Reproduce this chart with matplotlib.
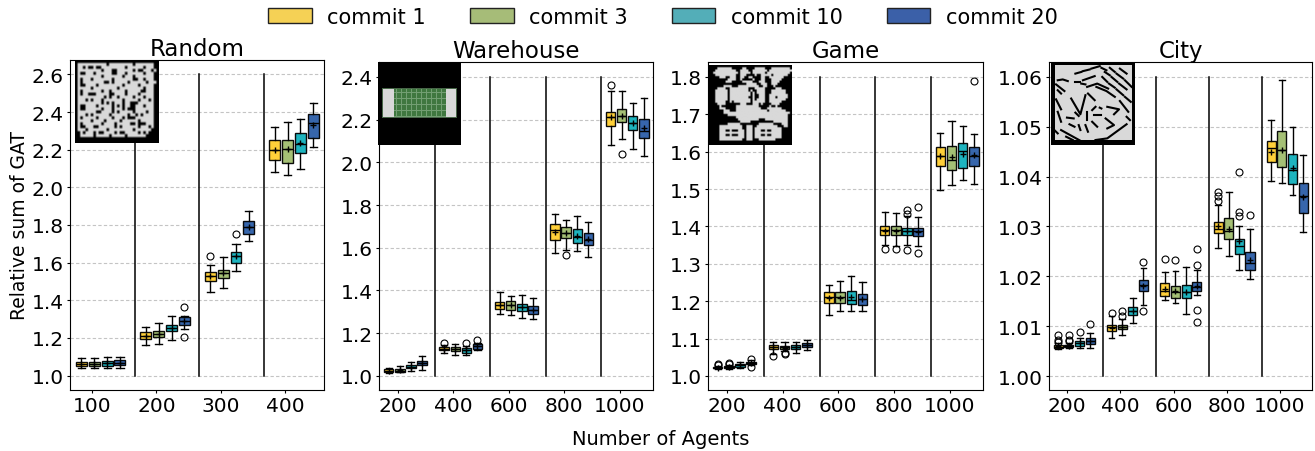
import numpy as np
import matplotlib
matplotlib.use('Agg')
import matplotlib.pyplot as plt
from matplotlib.patches import Patch

commits = ['commit 1', 'commit 3', 'commit 10', 'commit 20']
box_colors = ['#FFCE2E', '#A0BD6E', '#12B0BC', '#2C5EA8']
legend_colors = ['#F5D155', '#A6BC78', '#53AEB8', '#3B60A8']
titles = ['Random', 'Warehouse', 'Game', 'City']
labels_random = ['100', '200', '300', '400']
labels_other = ['200', '400', '600', '800', '1000']

# each row: low whisker, q1, median, q3, high whisker, mean
random_stats = [
    [[1.04, 1.053, 1.062, 1.072, 1.092, 1.062], [1.04, 1.05, 1.06, 1.072, 1.095, 1.06],
     [1.04, 1.052, 1.065, 1.078, 1.098, 1.065], [1.04, 1.055, 1.067, 1.08, 1.10, 1.067]],
    [[1.16, 1.193, 1.21, 1.232, 1.26, 1.21], [1.167, 1.207, 1.223, 1.238, 1.277, 1.222],
     [1.19, 1.234, 1.252, 1.268, 1.318, 1.252], [1.247, 1.271, 1.29, 1.31, 1.315, 1.29]],
    [[1.443, 1.502, 1.53, 1.548, 1.59, 1.53], [1.466, 1.52, 1.545, 1.562, 1.628, 1.545],
     [1.553, 1.60, 1.633, 1.658, 1.697, 1.633], [1.715, 1.754, 1.788, 1.823, 1.876, 1.788]],
    [[2.082, 2.144, 2.196, 2.254, 2.323, 2.196], [2.068, 2.128, 2.204, 2.254, 2.35, 2.204],
     [2.096, 2.181, 2.228, 2.29, 2.362, 2.235], [2.213, 2.263, 2.34, 2.389, 2.451, 2.33]],
]
random_fliers = [
    [[], [], [], []],
    [[], [], [], [1.365, 1.207]],
    [[1.633], [], [1.754], []],
    [[], [], [], []],
]

warehouse_stats = [
    [[1.014, 1.019, 1.025, 1.031, 1.036, 1.025], [1.016, 1.019, 1.025, 1.034, 1.045, 1.026],
     [1.022, 1.036, 1.044, 1.052, 1.064, 1.044], [1.027, 1.05, 1.061, 1.072, 1.094, 1.061]],
    [[1.108, 1.119, 1.128, 1.136, 1.145, 1.128], [1.098, 1.117, 1.127, 1.134, 1.15, 1.125],
     [1.097, 1.109, 1.12, 1.13, 1.142, 1.12], [1.12, 1.128, 1.14, 1.15, 1.155, 1.14]],
    [[1.289, 1.3125, 1.331, 1.345, 1.392, 1.331], [1.287, 1.309, 1.33, 1.353, 1.373, 1.33],
     [1.273, 1.306, 1.325, 1.339, 1.378, 1.325], [1.266, 1.29, 1.308, 1.327, 1.366, 1.308]],
    [[1.575, 1.636, 1.681, 1.711, 1.758, 1.676], [1.5875, 1.645, 1.667, 1.695, 1.731, 1.667],
     [1.586, 1.622, 1.65, 1.69, 1.748, 1.655], [1.556, 1.611, 1.6375, 1.669, 1.72, 1.64]],
    [[2.08, 2.169, 2.2125, 2.2375, 2.333, 2.2125], [2.11, 2.1875, 2.216, 2.248, 2.334, 2.216],
     [2.061, 2.152, 2.184, 2.216, 2.28, 2.184], [2.03, 2.114, 2.148, 2.203, 2.3, 2.16]],
]
warehouse_fliers = [
    [[], [], [], []],
    [[1.156], [], [1.153], [1.17]],
    [[], [], [], []],
    [[], [1.567], [], []],
    [[2.361], [2.0375], [], []],
]

game_stats = [
    [[1.019, 1.0205, 1.022, 1.024, 1.028, 1.022], [1.02, 1.0215, 1.024, 1.027, 1.03, 1.024],
     [1.022, 1.025, 1.0285, 1.032, 1.038, 1.0285], [1.03, 1.033, 1.036, 1.038, 1.042, 1.036]],
    [[1.06, 1.073, 1.0785, 1.082, 1.092, 1.077], [1.066, 1.072, 1.077, 1.081, 1.09, 1.076],
     [1.0625, 1.072, 1.077, 1.082, 1.092, 1.077], [1.07, 1.077, 1.082, 1.088, 1.096, 1.082]],
    [[1.164, 1.194, 1.21, 1.225, 1.243, 1.209], [1.174, 1.194, 1.21, 1.224, 1.253, 1.209],
     [1.173, 1.192, 1.2045, 1.227, 1.267, 1.21], [1.175, 1.189, 1.205, 1.219, 1.251, 1.205]],
    [[1.351, 1.378, 1.39, 1.402, 1.438, 1.389], [1.349, 1.378, 1.39, 1.402, 1.436, 1.389],
     [1.351, 1.376, 1.388, 1.397, 1.428, 1.388], [1.348, 1.375, 1.3875, 1.397, 1.426, 1.386]],
    [[1.497, 1.5625, 1.5875, 1.612, 1.649, 1.5875], [1.512, 1.552, 1.579, 1.614, 1.681, 1.586],
     [1.525, 1.556, 1.602, 1.624, 1.669, 1.593], [1.514, 1.561, 1.588, 1.6125, 1.647, 1.59]],
]
game_fliers = [
    [[1.033, 1.03], [1.035, 1.032], [], [1.025, 1.046]],
    [[1.054], [1.061, 1.059], [], []],
    [[], [], [], []],
    [[1.341], [1.339], [1.3365, 1.434, 1.445], [1.33, 1.452]],
    [[], [], [], [1.788]],
]

city_stats = [
    [[1.0054, 1.0057, 1.0059, 1.0062, 1.0066, 1.006], [1.0056, 1.0058, 1.006, 1.0063, 1.0066, 1.006],
     [1.0056, 1.0061, 1.0066, 1.0071, 1.0076, 1.0066], [1.0056, 1.0064, 1.007, 1.0077, 1.0086, 1.0071]],
    [[1.0076, 1.0091, 1.0098, 1.0103, 1.012, 1.0097], [1.0083, 1.0094, 1.0099, 1.0102, 1.0115, 1.0098],
     [1.0107, 1.0122, 1.0131, 1.0138, 1.0157, 1.013], [1.0142, 1.017, 1.0183, 1.0192, 1.0216, 1.0181]],
    [[1.0152, 1.0161, 1.0171, 1.0187, 1.0208, 1.0175], [1.0147, 1.0157, 1.0168, 1.018, 1.0211, 1.0171],
     [1.0125, 1.0157, 1.0169, 1.0183, 1.0218, 1.0169], [1.0162, 1.017, 1.0179, 1.0188, 1.0213, 1.018]],
    [[1.0256, 1.0286, 1.0295, 1.0309, 1.0344, 1.0302], [1.0241, 1.0275, 1.0291, 1.0317, 1.0369, 1.0295],
     [1.0212, 1.0244, 1.0261, 1.0275, 1.03, 1.027], [1.0195, 1.0212, 1.0226, 1.0248, 1.0295, 1.0233]],
    [[1.0392, 1.0429, 1.0457, 1.0471, 1.0514, 1.045], [1.0388, 1.0419, 1.0454, 1.0491, 1.0594, 1.0454],
     [1.0364, 1.0385, 1.0413, 1.0445, 1.05, 1.0417], [1.0289, 1.0328, 1.0362, 1.0388, 1.0443, 1.036]],
]
city_fliers = [
    [[1.0082, 1.0072, 1.0069], [1.0083, 1.0073, 1.007], [1.0088], [1.0104]],
    [[1.0127], [1.0121, 1.0131], [], [1.0131, 1.0228]],
    [[1.0234], [1.0232], [], [1.0108, 1.0133, 1.0223, 1.0255]],
    [[1.0352, 1.0361, 1.037], [], [1.0409, 1.033, 1.0321], [1.0323]],
    [[], [], [], []],
]

random_map = [
    "################################",
    "#...........#.........#.......##",
    "#..#.##.##.........#......#...##",
    "#.........#...##......#.##...#.#",
    "#.##...#......##...#......#...##",
    "#.........#.......#...#.......##",
    "#.#...#.......#.......##..#...##",
    "#.#........##.#.....#......#...#",
    "#.##....#.........#.....#.....##",
    "#.....#.........#.........#...##",
    "#.#.......#..#.....#.....##...##",
    "#.#..###.....##....#....#.....##",
    "#..........#.#..#.....#...#...##",
    "#...#.#...#.......#.....#...#.##",
    "#.........#.#.#...#..###......##",
    "#.##....#.....#.#.#..##...#...##",
    "#.##......#...#...#.###.......##",
    "#.......##....#.#.....#....#..##",
    "#...#.#......#......#..#.#....##",
    "#.#.....#.....#...#.###.......##",
    "#.....#....#.....#......#.....##",
    "#.#.......#....#.....##.###...##",
    "#.##...##......#.#......#...#.##",
    "#...#.......#.........#......###",
    "##.#...#.##....#.##.....#.#.####",
    "##.....#.....#.....#.......#####",
    "################################",
    "################################",
]

game_map = [
    "########################################",
    "####.......#####..####.....###.........#",
    "###..........##....##.......#...........",
    "##............#.....#......#...........#",
    "###..........##...####.##.....#.......##",
    "#####...##...##..##..####..##.......####",
    "#########....##.#####.###..###.....#####",
    "########...#####.....###...###....######",
    "##################.....##...##...#######",
    "#######....###..........##..###.########",
    "####....##.........###.....#####...#####",
    "###......#.........#.##....###.......###",
    "###......#..........#.#....###.......###",
    "###......#..........#.##...##.........##",
    "###......#.........##.##...##...#.....##",
    "###......#..........#.#....##........###",
    "###.....##.#........#......##......#####",
    "####....#######...###...#.####....######",
    "#####.#######...........#####.##.#######",
    "#####...#####............###.......#####",
    "#######...###...............#........###",
    "#######................................#",
    "#########.............................##",
    "#############.........................##",
    "##############..........###...........##",
    "###############.....###########.......##",
    "#########......#########.......####...##",
    "#####...........##...##..........###..##",
    "#####...........##...#.............#####",
    "#####...##.###...#...#...##.##.....#####",
    "#####............#...#.............#####",
    "#####...##.###...#...#...##.##.....#####",
    "#####............#...#.............#####",
    "#####...........##...###........########",
    "#######################################",
    "########################################",
]

city_border = 0.85
city_streets = [
    [(29, 14), (36, 12)], [(38, 11), (46, 9)], [(48, 8), (58, 5)], [(38, 22), (52, 17)],
    [(64, 12), (70, 16)], [(72, 18), (79, 24)], [(81, 26), (90, 33)],
    [(61, 18), (67, 24)], [(69, 26), (76, 31)], [(78, 33), (86, 40)], [(88, 42), (95, 48)],
    [(70, 7), (76, 12)], [(78, 14), (86, 20)], [(88, 22), (96, 30)], [(60, 7), (66, 10)],
    [(82, 8), (90, 14)], [(54, 30), (66, 35), (76, 42)], [(8, 22), (14, 21), (20, 23)],
    [(6, 27), (16, 35)], [(28, 24), (34, 24)], [(36, 26), (41, 27)], [(43, 30), (55, 26), (68, 32)],
    [(24, 44), (35, 63), (41, 40)], [(43, 60), (43, 70)], [(49, 58), (53, 54)], [(51, 64), (59, 64)],
    [(49, 72), (55, 78)], [(41, 76), (44, 84)], [(33, 76), (35, 82)], [(22, 75), (28, 78)],
    [(19, 67), (27, 68)], [(29, 61), (33, 65)], [(67, 54), (81, 57), (75, 63)], [(65, 68), (75, 76), (67, 80)],
    [(12, 82), (37, 96)], [(53, 94), (67, 92), (90, 75)], [(18, 90), (26, 94)], [(6, 45), (12, 57)],
    [(8, 60), (12, 72)], [(2, 80), (8, 86)], [(58, 55), (60, 56)], [(82, 47), (92, 60)],
    [(44, 38), (52, 46)], [(8, 34), (12, 38)], [(90, 66), (94, 70)],
]

fig = plt.figure(figsize=(13.15, 4.52), dpi=100)
W, H = 1315.0, 452.0


def px_axes(left, right, top, bottom):
    return fig.add_axes([left / W, 1 - bottom / H, (right - left) / W, (bottom - top) / H])


def ascii_img(rows):
    n = max(len(r) for r in rows)
    return np.array([[0.0 if c == '#' else 0.85 for c in r.ljust(n, '#')] for r in rows])


def warehouse_img():
    # black floor, grey side bands, green shelves with thin aisles
    img = np.zeros((83, 83, 3))
    img[26:56, 4:79] = [0.28, 0.40, 0.28]
    img[27:55, 5:16] = 0.85
    img[27:55, 68:78] = 0.85
    img[27:55, 16:68] = [0.25, 0.47, 0.25]
    img[30:55:6, 16:68] = [0.45, 0.62, 0.45]
    img[27:55, 18:68:5] = [0.45, 0.62, 0.45]
    return img


def city_img():
    img = np.full((83, 83), city_border)
    img[:3, :] = 0
    img[:, :4] = 0
    img[:, -3:] = 0
    img[-5:, :] = 0
    return img


def draw_panel(ax, stats, fliers, labels, ylim, yticks, yfmt, xmax, top):
    offsets = [-0.165, 0.035, 0.235, 0.435]
    ax.grid(axis='y', ls=(0, (3, 2)), color='#c4c4c4', lw=0.8)
    ax.set_axisbelow(True)
    for i in range(len(labels)):
        for j in range(4):
            s = stats[i][j]
            d = dict(whislo=s[0], q1=s[1], med=s[2], q3=s[3], whishi=s[4], mean=s[5],
                     fliers=fliers[i][j])
            ax.bxp([d], positions=[i + offsets[j]], widths=0.17, capwidths=0.11,
                   patch_artist=True, showmeans=True, manage_ticks=False,
                   boxprops=dict(facecolor=box_colors[j], edgecolor='black', lw=1, alpha=0.95),
                   medianprops=dict(color='black', lw=1),
                   whiskerprops=dict(color='black', lw=1),
                   capprops=dict(color='black', lw=1),
                   meanprops=dict(marker='+', markeredgecolor='black', markersize=5, markeredgewidth=1),
                   flierprops=dict(marker='o', markerfacecolor='none', markeredgecolor='black',
                                   markersize=5, markeredgewidth=0.8))
    for i in range(len(labels) - 1):
        ax.plot([i + 0.665, i + 0.665], [yticks[0], top], color='black', lw=1.1)
    ax.set_xlim(-0.34, xmax)
    ax.set_ylim(*ylim)
    ax.set_xticks(range(len(labels)))
    ax.set_xticklabels(labels)
    ax.set_yticks(yticks)
    ax.set_yticklabels([yfmt % v for v in yticks])
    ax.tick_params(labelsize=14.5, length=2.5, pad=2)


ax1 = px_axes(70, 324, 61, 391)
ax2 = px_axes(379, 653, 63, 391)
ax3 = px_axes(708, 983, 63, 391)
ax4 = px_axes(1049, 1312, 63, 391)

draw_panel(ax1, random_stats, random_fliers, labels_random, (0.923, 2.677),
           [1.0, 1.2, 1.4, 1.6, 1.8, 2.0, 2.2, 2.4, 2.6], '%.1f', 3.6, 2.6)
draw_panel(ax2, warehouse_stats, warehouse_fliers, labels_other, (0.934, 2.47),
           [1.0, 1.2, 1.4, 1.6, 1.8, 2.0, 2.2, 2.4], '%.1f', 4.6, 2.4)
draw_panel(ax3, game_stats, game_fliers, labels_other, (0.9625, 1.84),
           [1.0, 1.1, 1.2, 1.3, 1.4, 1.5, 1.6, 1.7, 1.8], '%.1f', 4.6, 1.8)
draw_panel(ax4, city_stats, city_fliers, labels_other, (0.9972, 1.063),
           [1.00, 1.01, 1.02, 1.03, 1.04, 1.05, 1.06], '%.2f', 4.6, 1.06)

for ax, t in zip([ax1, ax2, ax3, ax4], titles):
    ax.set_title(t, fontsize=16.5, pad=2)
fig.text(20 / W, 1 - 226 / H, 'Relative sum of GAT', fontsize=13.5, rotation=90, ha='center', va='center')
fig.text(661 / W, 1 - 440 / H, 'Number of Agents', fontsize=14, ha='center', va='center')

# map thumbnails in the corner of each panel
insets = [(75, 158.5, 61, 144), (378, 461, 63, 146), (709, 792, 66, 146), (1051, 1135, 63, 146)]
images = [ascii_img(random_map), warehouse_img(), ascii_img(game_map), city_img()]
for k, (box, img) in enumerate(zip(insets, images)):
    a = px_axes(box[0], box[1], box[2], box[3])
    a.imshow(img, cmap='gray', vmin=0, vmax=1, aspect='auto', extent=(0, 100, 100, 0),
             interpolation='hermite')
    if k == 3:
        for street in city_streets:
            a.plot([p[0] for p in street], [p[1] for p in street], color='black', lw=1.5)
        a.set_xlim(0, 100)
        a.set_ylim(100, 0)
    a.axis('off')

handles = [Patch(facecolor=c, edgecolor='#222222', lw=1) for c in legend_colors]
fig.legend(handles, commits, ncol=4, frameon=False, fontsize=15, loc='center',
           bbox_to_anchor=(663 / W, 1 - 18 / H), handlelength=2.1, handletextpad=0.75,
           columnspacing=2.1)

fig.savefig('out.png', dpi=100)
plt.close()
